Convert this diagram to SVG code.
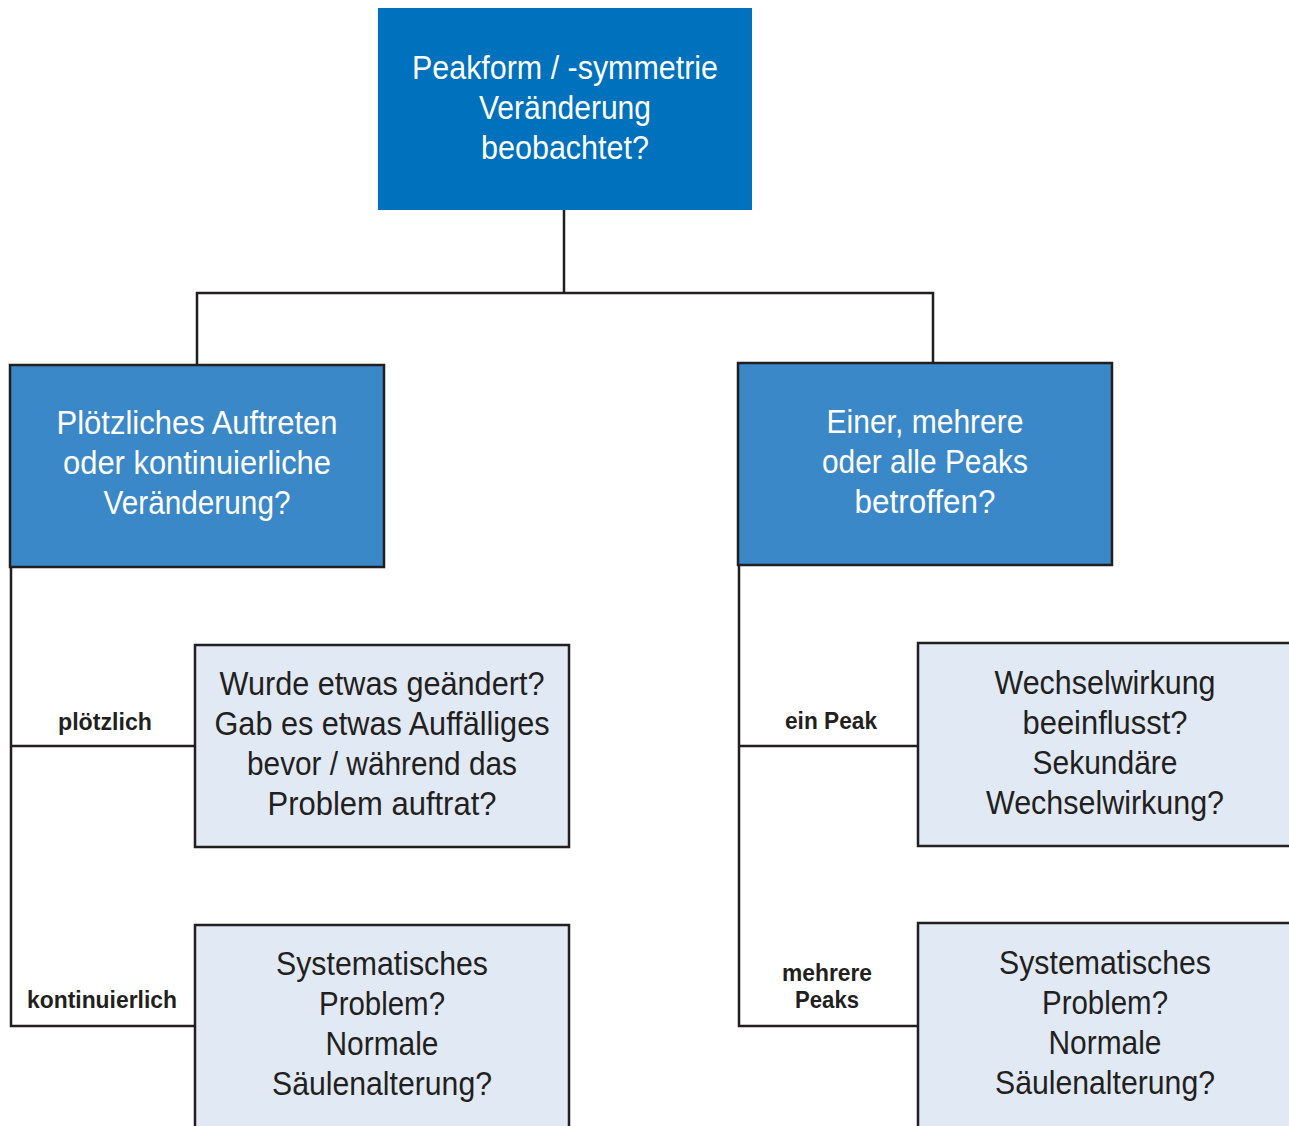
<svg xmlns="http://www.w3.org/2000/svg" width="1289" height="1126" viewBox="0 0 1289 1126">
<style>
text{font-family:"Liberation Sans Narrow","Liberation Sans",Arial,sans-serif;text-anchor:middle}
.w{fill:#ffffff;font-size:33px}
.d{fill:#231f20;font-size:33px}
.l{fill:#231f20;font-size:24px;font-weight:bold}
.mid{fill:#3a88c8;stroke:#231f20;stroke-width:2.5}
.low{fill:#e1e9f5;stroke:#231f20;stroke-width:2.5}
.c{fill:none;stroke:#231f20;stroke-width:2.5}
</style>
<rect width="1289" height="1126" fill="#ffffff"/>
<g id="connectors">
<polyline class="c" points="564,210 564,293"/>
<polyline class="c" points="197,364 197,293 933,293 933,363"/>
<polyline class="c" points="11,567 11,1026 195,1026"/>
<polyline class="c" points="11,746 195,746"/>
<polyline class="c" points="739,565 739,1026 918,1026"/>
<polyline class="c" points="739,746 918,746"/>
</g>
<g id="label-ploetzlich"><text class="l" x="105" y="730" textLength="94" lengthAdjust="spacingAndGlyphs">plötzlich</text></g>
<g id="label-kontinuierlich"><text class="l" x="102" y="1008" textLength="150" lengthAdjust="spacingAndGlyphs">kontinuierlich</text></g>
<g id="label-einpeak"><text class="l" x="831" y="729" textLength="92" lengthAdjust="spacingAndGlyphs">ein Peak</text></g>
<g id="label-mehrere"><text class="l" x="827" y="981" textLength="90" lengthAdjust="spacingAndGlyphs">mehrere</text><text class="l" x="827" y="1008" textLength="64" lengthAdjust="spacingAndGlyphs">Peaks</text></g>
<g id="node-top">
<rect x="378" y="8" width="374" height="202" fill="#0071bc"/>
<text class="w" x="565" y="79" textLength="306" lengthAdjust="spacingAndGlyphs">Peakform / -symmetrie</text>
<text class="w" x="565" y="119" textLength="172" lengthAdjust="spacingAndGlyphs">Veränderung</text>
<text class="w" x="565" y="159" textLength="168" lengthAdjust="spacingAndGlyphs">beobachtet?</text>
</g>
<g id="node-left">
<rect class="mid" x="10" y="365" width="374" height="202"/>
<text class="w" x="197" y="434" textLength="281" lengthAdjust="spacingAndGlyphs">Plötzliches Auftreten</text>
<text class="w" x="197" y="474" textLength="268" lengthAdjust="spacingAndGlyphs">oder kontinuierliche</text>
<text class="w" x="197" y="514" textLength="187" lengthAdjust="spacingAndGlyphs">Veränderung?</text>
</g>
<g id="node-right">
<rect class="mid" x="738" y="363" width="374" height="202"/>
<text class="w" x="925" y="433" textLength="197" lengthAdjust="spacingAndGlyphs">Einer, mehrere</text>
<text class="w" x="925" y="473" textLength="206" lengthAdjust="spacingAndGlyphs">oder alle Peaks</text>
<text class="w" x="925" y="513" textLength="141" lengthAdjust="spacingAndGlyphs">betroffen?</text>
</g>
<g id="node-changed">
<rect class="low" x="195" y="645" width="374" height="202"/>
<text class="d" x="382" y="695" textLength="325" lengthAdjust="spacingAndGlyphs">Wurde etwas geändert?</text>
<text class="d" x="382" y="735" textLength="335" lengthAdjust="spacingAndGlyphs">Gab es etwas Auffälliges</text>
<text class="d" x="382" y="775" textLength="270" lengthAdjust="spacingAndGlyphs">bevor / während das</text>
<text class="d" x="382" y="815" textLength="229" lengthAdjust="spacingAndGlyphs">Problem auftrat?</text>
</g>
<g id="node-system-left">
<rect class="low" x="195" y="925" width="374" height="215"/>
<text class="d" x="382" y="975" textLength="212" lengthAdjust="spacingAndGlyphs">Systematisches</text>
<text class="d" x="382" y="1015" textLength="126" lengthAdjust="spacingAndGlyphs">Problem?</text>
<text class="d" x="382" y="1055" textLength="113" lengthAdjust="spacingAndGlyphs">Normale</text>
<text class="d" x="382" y="1095" textLength="220" lengthAdjust="spacingAndGlyphs">Säulenalterung?</text>
</g>
<g id="node-interaction">
<rect class="low" x="918" y="643" width="390" height="203"/>
<text class="d" x="1105" y="694" textLength="221" lengthAdjust="spacingAndGlyphs">Wechselwirkung</text>
<text class="d" x="1105" y="734" textLength="165" lengthAdjust="spacingAndGlyphs">beeinflusst?</text>
<text class="d" x="1105" y="774" textLength="145" lengthAdjust="spacingAndGlyphs">Sekundäre</text>
<text class="d" x="1105" y="814" textLength="238" lengthAdjust="spacingAndGlyphs">Wechselwirkung?</text>
</g>
<g id="node-system-right">
<rect class="low" x="918" y="923" width="390" height="217"/>
<text class="d" x="1105" y="974" textLength="212" lengthAdjust="spacingAndGlyphs">Systematisches</text>
<text class="d" x="1105" y="1014" textLength="126" lengthAdjust="spacingAndGlyphs">Problem?</text>
<text class="d" x="1105" y="1054" textLength="113" lengthAdjust="spacingAndGlyphs">Normale</text>
<text class="d" x="1105" y="1094" textLength="220" lengthAdjust="spacingAndGlyphs">Säulenalterung?</text>
</g>
</svg>
